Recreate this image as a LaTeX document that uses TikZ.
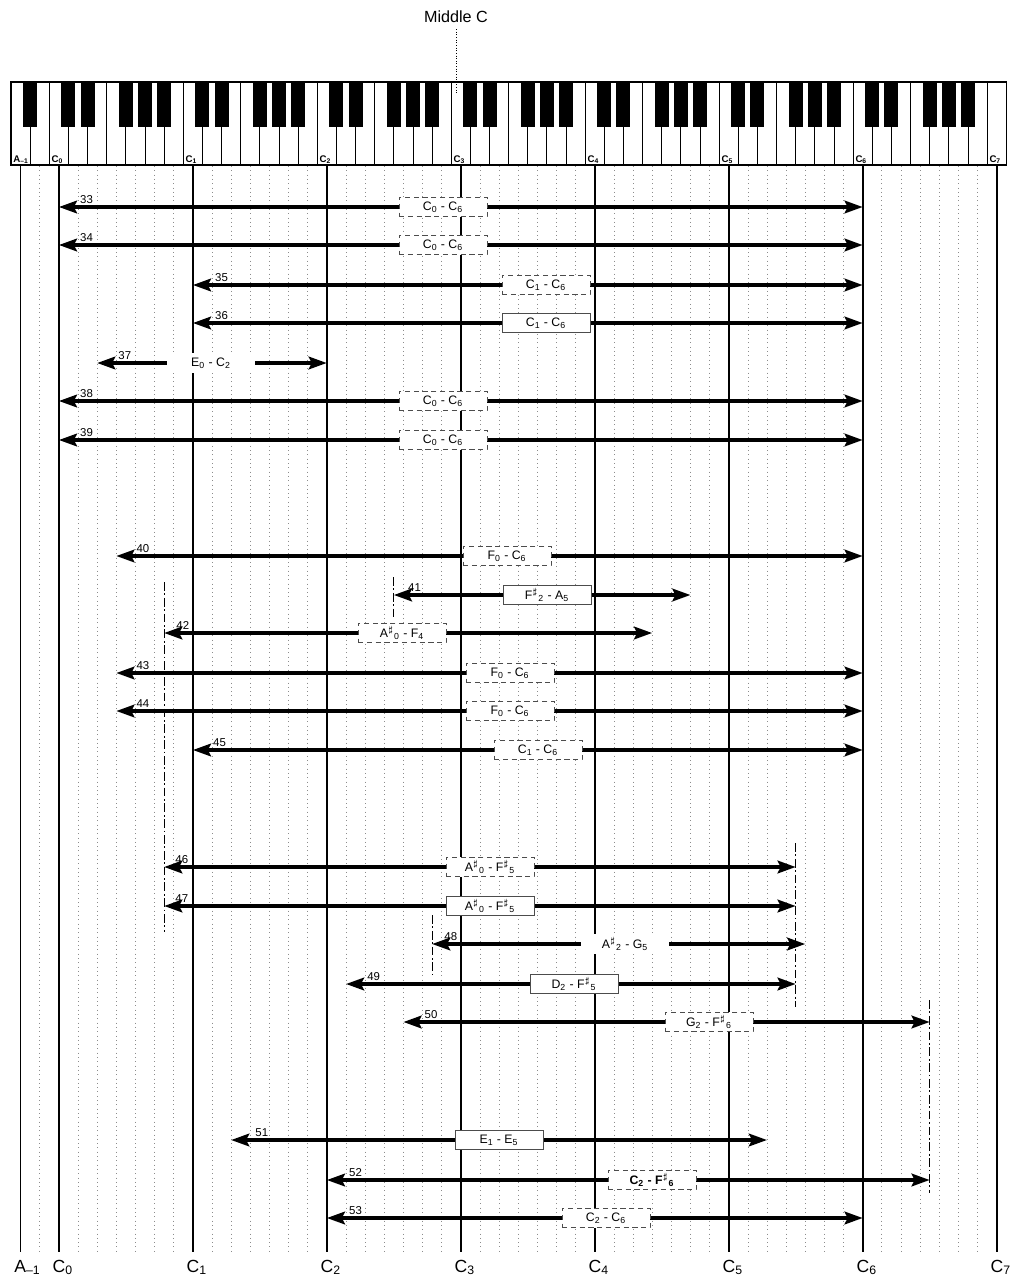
\documentclass[tikz,border=0pt]{standalone}
\usepackage{amsmath}
\usepackage{fontspec}
\setmainfont{Liberation Sans}
\usepackage{tikz}
\usetikzlibrary{arrows.meta}

\begin{document}
\begin{tikzpicture}[x=0.02cm, y=-0.02cm,
  spanarrow/.style={line width=2.5pt,
    {Stealth[length=3.6mm,width=2.5mm,inset=0.6mm]}-{Stealth[length=3.6mm,width=2.5mm,inset=0.6mm]}},
  dashbox/.style={fill=white, draw=black!70, densely dashed, line width=0.35pt,
    minimum width=1.76cm, minimum height=0.39cm, inner sep=0pt, font=\fontsize{7}{8}\selectfont},
  linebox/.style={dashbox, solid},
  bare/.style={dashbox, draw=none},
  rownum/.style={anchor=south west, inner sep=0pt, font=\fontsize{6.5}{7}\selectfont},
  cline/.style={line width=1pt},
  keyline/.style={black!45, dotted, line width=0.45pt},
  limit/.style={line width=0.6pt, dash pattern=on 5pt off 1.5pt on 1pt off 1.5pt},
  keylabel/.style={anchor=base west, inner sep=0pt, font=\bfseries\fontsize{5.5}{6}\selectfont},
  octlabel/.style={anchor=base west, inner sep=0pt, font=\fontsize{10}{12}\selectfont},
  ]
  \fill[white] (0,0) rectangle (1019,1275);
  \useasboundingbox (0,0) rectangle (1019,1275);

  % keyboard
  \foreach \i in {0,...,51}
    \draw[line width=0.5pt, fill=white] ({11+19.14*\i},82) rectangle ({11+19.14*(\i+1)},165);
  \fill ({11+19.14-7},82) rectangle ({11+19.14+7},127);
  \foreach \o in {0,...,6}
    \foreach \k in {0,1,3,4,5}
      \fill ({11+19.14*(3+7*\o+\k)-7},82) rectangle ({11+19.14*(3+7*\o+\k)+7},127);
  \draw[line width=0.7pt] (11,82) rectangle ({11+19.14*52},165);

  % Middle C
  \node[font=\fontsize{9.2}{11}\selectfont] (midc) at (456,17) {Middle C};
  \coordinate (midkey) at (456,94);
  \draw[densely dotted, line width=0.5pt] (midc.south) -- (midkey);

  % grid
  \foreach \i in {1,...,50}
    \draw[keyline] ({11+19.14*(\i+0.5)},166) -- ({11+19.14*(\i+0.5)},1252);
  \foreach \p/\nm/\o/\id in {0.5/A/–1/am, 2.5/C/0/c0, 9.5/C/1/c1, 16.5/C/2/c2, 23.5/C/3/c3,
      30.5/C/4/c4, 37.5/C/5/c5, 44.5/C/6/c6, 51.5/C/7/c7} {
    \draw[cline] ({11+19.14*\p},166) -- ({11+19.14*\p},1252);
    \node[keylabel] (key\id) at ({11+19.14*(\p-0.5)+2},162) {\nm$_{\text{\o}}$};
    \node[octlabel] (bot\id) at ({11+19.14*\p-6.5},1272) {\nm$_{\text{\o}}$};
  }
  \foreach \p/\ya/\yb in {20/577/618, 8/582/932, 41/843/1007, 22/915/975, 48/1000/1193}
    \draw[limit] ({11+19.14*\p},\ya) -- ({11+19.14*\p},\yb);

  % ranges
  \foreach \n/\y/\pl/\pr/\lab/\bx/\nx/\bs in {
      33/207/2.5/44.5/{C$_{\text{0}}$ - C$_{\text{6}}$}/443/21/dashbox,
      34/245/2.5/44.5/{C$_{\text{0}}$ - C$_{\text{6}}$}/443/21/dashbox,
      35/285/9.5/44.5/{C$_{\text{1}}$ - C$_{\text{6}}$}/546/22/dashbox,
      36/323/9.5/44.5/{C$_{\text{1}}$ - C$_{\text{6}}$}/546/22/linebox,
      37/363/4.5/16.5/{E$_{\text{0}}$ - C$_{\text{2}}$}/211/21/bare,
      38/401/2.5/44.5/{C$_{\text{0}}$ - C$_{\text{6}}$}/443/21/dashbox,
      39/440/2.5/44.5/{C$_{\text{0}}$ - C$_{\text{6}}$}/443/21/dashbox,
      40/556/5.5/44.5/{F$_{\text{0}}$ - C$_{\text{6}}$}/507/20/dashbox,
      41/595/20/35.5/{F$^{\sharp}{}_{\text{2}}$ - A$_{\text{5}}$}/547/14/linebox,
      42/633/8/33.5/{A$^{\sharp}{}_{\text{0}}$ - F$_{\text{4}}$}/402/12/dashbox,
      43/673/5.5/44.5/{F$_{\text{0}}$ - C$_{\text{6}}$}/510/20/dashbox,
      44/711/5.5/44.5/{F$_{\text{0}}$ - C$_{\text{6}}$}/510/20/dashbox,
      45/750/9.5/44.5/{C$_{\text{1}}$ - C$_{\text{6}}$}/538/20/dashbox,
      46/867/8/41/{A$^{\sharp}{}_{\text{0}}$ - F$^{\sharp}{}_{\text{5}}$}/490/11/dashbox,
      47/906/8/41/{A$^{\sharp}{}_{\text{0}}$ - F$^{\sharp}{}_{\text{5}}$}/490/11/linebox,
      48/944/22/41.5/{A$^{\sharp}{}_{\text{2}}$ - G$_{\text{5}}$}/625/12/bare,
      49/984/17.5/41/{D$_{\text{2}}$ - F$^{\sharp}{}_{\text{5}}$}/574/21/linebox,
      50/1022/20.5/48/{G$_{\text{2}}$ - F$^{\sharp}{}_{\text{6}}$}/709/21/dashbox,
      51/1140/11.5/39.5/{E$_{\text{1}}$ - E$_{\text{5}}$}/499/24/linebox,
      52/1180/16.5/48/{\bfseries C$_{\text{2}}$ - F$^{\sharp}{}_{\text{6}}$}/652/22/dashbox,
      53/1218/16.5/44.5/{C$_{\text{2}}$ - C$_{\text{6}}$}/606/22/dashbox} {
    \coordinate (L\n) at ({11+19.14*\pl},\y);
    \coordinate (R\n) at ({11+19.14*\pr},\y);
    \draw[spanarrow] (L\n) -- (R\n);
    \node[\bs] (box\n) at (\bx,\y) {\lab};
    \node[rownum] (num\n) at ({11+19.14*\pl+\nx},\y-3) {\n};
  }
\end{tikzpicture}
\end{document}
